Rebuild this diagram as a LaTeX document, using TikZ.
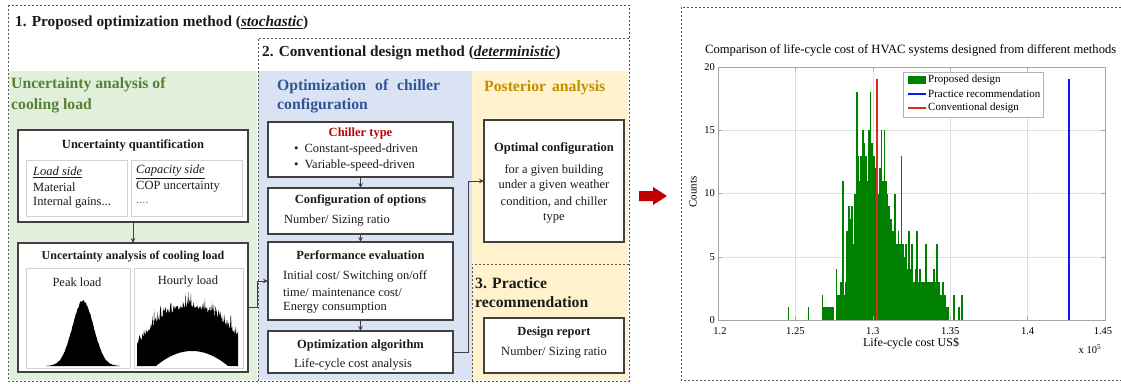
\documentclass[tikz,border=0pt]{standalone}
\usepackage{fontspec}
\setmainfont{Liberation Serif}
\usetikzlibrary{arrows.meta}
\definecolor{gfill}{HTML}{E2EFDA}
\definecolor{bfill}{HTML}{DAE3F3}
\definecolor{yfill}{HTML}{FFF2CC}
\definecolor{gtext}{HTML}{548235}
\definecolor{btext}{HTML}{2F5597}
\definecolor{ytext}{HTML}{BF9000}
\definecolor{ctred}{HTML}{C00000}
\definecolor{boxc}{HTML}{404040}
\definecolor{dashc}{HTML}{555555}
\definecolor{txtc}{HTML}{1A1A1A}
\definecolor{hgreen}{RGB}{0,128,0}
\definecolor{hedge}{RGB}{90,175,90}
\definecolor{rline}{RGB}{215,45,30}
\definecolor{bline}{RGB}{20,20,240}
\definecolor{rarrow}{HTML}{C00000}
\begin{document}
\begin{tikzpicture}[x=1pt,y=-1pt,
  box/.style={draw=boxc, line width=1.2pt, fill=white, inner sep=0pt, outer sep=0pt},
  panel/.style={draw=gray!35, line width=0.6pt, fill=white, inner sep=0pt, outer sep=0pt},
  dbox/.style={draw=dashc, dash pattern=on 2.2pt off 1.8pt, line width=0.8pt},
  arr/.style={-{Stealth[length=5pt,width=4.5pt]}, line width=1pt, draw=boxc},
  sect/.style={font=\bfseries\fontsize{15.7}{18}\selectfont, inner sep=0pt, anchor=west},
  head/.style={font=\bfseries\fontsize{15.3}{18}\selectfont, inner sep=0pt, anchor=west, text=txtc},
  ttl/.style={font=\bfseries\fontsize{12.5}{14}\selectfont, inner sep=0pt, text=txtc},
  txt/.style={font=\fontsize{12.5}{14}\selectfont, inner sep=0pt, text=txtc},
  tick/.style={font=\fontsize{10.5}{12}\selectfont, inner sep=0pt},
  leg/.style={font=\fontsize{11}{12}\selectfont, inner sep=0pt, anchor=west},
  bar/.style={fill=hgreen}
]
\useasboundingbox (0,0) rectangle (1121,383);

% ---------- coloured regions ----------
\fill[gfill] (9,71) rectangle (257,380);
\fill[bfill] (258,71) rectangle (472,380);
\fill[yfill] (472,71) rectangle (628,380);

% ---------- dashed frames ----------
\draw[dbox] (8,5) rectangle (629,381);
\draw[dbox] (258,381) -- (258,38) -- (629,38);
\draw[dbox] (472,381) -- (472,264) -- (629,264);
\draw[dbox] (1121,7) -- (681,7) -- (681,380) -- (1121,380);

% ---------- section titles ----------
\node[head] (t1) at (15,23) {1. Proposed optimization method (\underline{\textit{stochastic}})};
\node[head] (t2) at (262,53) {2. Conventional design method (\underline{\textit{deterministic}})};
\node[sect, text=gtext] (g1) at (11,85) {Uncertainty analysis of};
\node[sect, text=gtext] (g2) at (11,106) {cooling load};
\node[sect, text=btext] (b1) at (277,87) {Optimization\hspace{9pt}of\hspace{9pt}chiller};
\node[sect, text=btext] (b2) at (277,106) {configuration};
\node[sect, text=ytext] (y1) at (484,88) {Posterior\hspace{6pt}analysis};
\node[sect, text=txtc] (p1) at (475,283) {3. Practice};
\node[sect, text=txtc] (p2) at (475,302) {recommendation};

% ---------- green boxes ----------
\node[box, minimum width=230pt, minimum height=92pt] (uq) at (133,176) {};
\node[panel, minimum width=101pt, minimum height=56pt] (uql) at (76.5,188) {};
\node[panel, minimum width=111pt, minimum height=56pt] (uqr) at (186.5,188) {};
\node[ttl] (uqt) at (133,145) {Uncertainty quantification};
\node[txt, anchor=west] (ls) at (33,172) {\underline{\textit{Load side}}};
\node[txt, anchor=west] (mat) at (33,187) {Material};
\node[txt, anchor=west] (ig) at (33,203) {Internal gains...};
\node[txt, anchor=west] (cs) at (136,172) {\underline{\textit{Capacity side}}};
\node[txt, anchor=west] (cop) at (136,187) {COP uncertainty};
\node[txt, anchor=west, text=gray] (dots) at (136,203) {....};

\node[box, minimum width=230pt, minimum height=129pt] (ua) at (133,307.5) {};
\node[panel, minimum width=104pt, minimum height=100pt] (ual) at (78,318) {};
\node[panel, minimum width=109pt, minimum height=100pt] (uar) at (188.5,318) {};
\node[ttl, font=\bfseries\fontsize{12}{14}\selectfont] (uat) at (133,257) {Uncertainty analysis of cooling load};
\node[txt] (pk) at (77,282) {Peak load};
\node[txt] (hl) at (188,282) {Hourly load};
% peak load histogram
\pgfmathsetseed{5}
\fill[black] (46,366) -- plot[domain=48:118, samples=110] (\x, {366-64*exp(-((\x-83)^2)/(2*10.5*10.5))-2.5*rnd*exp(-((\x-83)^2)/(2*14*14))}) -- (120,366) -- cycle;
% hourly load
\pgfmathsetseed{11}
\fill[black] (137,366) -- plot[domain=137:238, samples=190] (\x, {366-(24+34*(1-((\x-190)/50)^2))-18*rnd*rnd}) -- (238,366) -- plot[domain=238:137, samples=60] (\x, {366-max(0,15*(1-((\x-192)/36)^2))}) -- cycle;

\draw[arr] (uq.south) -- (ua.north);

% ---------- blue boxes ----------
\node[box, minimum width=185pt, minimum height=55pt] (ct) at (360.5,149.5) {};
\node[ttl, text=ctred] (ctt) at (360.5,134) {Chiller type};
\node[txt, anchor=west] (cb1) at (294,149) {\textbullet\hspace{6pt}Constant-speed-driven};
\node[txt, anchor=west] (cb2) at (294,165) {\textbullet\hspace{6pt}Variable-speed-driven};

\node[box, minimum width=185pt, minimum height=46pt] (co) at (360.5,211) {};
\node[ttl] (cot) at (360.5,200) {Configuration of options};
\node[txt, anchor=west] (cob) at (284,221) {Number/ Sizing ratio};

\node[box, minimum width=185pt, minimum height=78pt] (pe) at (360.5,281) {};
\node[ttl] (pet) at (360.5,255) {Performance evaluation};
\node[txt, anchor=west] (pe1) at (283,276) {Initial cost/ Switching on/off};
\node[txt, anchor=west] (pe2) at (283,292) {time/ maintenance cost/};
\node[txt, anchor=west] (pe3) at (283,308) {Energy consumption};

\node[box, minimum width=185pt, minimum height=42pt] (oa) at (360.5,352) {};
\node[ttl] (oat) at (360.5,346) {Optimization algorithm};
\node[txt] (oab) at (353,364) {Life-cycle cost analysis};

\draw[arr] (ct.south) -- (co.north);
\draw[arr] (co.south) -- (pe.north);
\draw[arr] (pe.south) -- (oa.north);

% ---------- yellow boxes ----------
\node[box, minimum width=140pt, minimum height=122pt] (oc) at (554,181) {};
\node[ttl] (oct) at (554,148) {Optimal configuration};
\node[txt] (oc1) at (554,170) {for a given building};
\node[txt] (oc2) at (554,186) {under a given weather};
\node[txt] (oc3) at (554,202) {condition, and chiller};
\node[txt] (oc4) at (554,218) {type};

\node[box, minimum width=140pt, minimum height=55pt] (dr) at (554,345.5) {};
\node[ttl] (drt) at (554,333) {Design report};
\node[txt] (drb) at (554,353) {Number/ Sizing ratio};

% ---------- connectors ----------
\draw[arr] (ua.east) -- ++(9,0) |- (pe.west);
\draw[arr] (oa.east) -- ++(15,0) |- (oc.west);

% ---------- red block arrow ----------
\fill[rarrow] (639,191) -- (653,191) -- (653,187) -- (667,196) -- (653,205) -- (653,201) -- (639,201) -- cycle;

% ---------- chart ----------
\node[font=\fontsize{12.6}{14}\selectfont, inner sep=0pt, anchor=west] (ctitle) at (705,50) {Comparison of life-cycle cost of HVAC systems designed from different methods};
% grid
\foreach \gx in {795.4,872.8,950.2,1027.6} \draw[gray!25, line width=0.5pt] (\gx,67) -- (\gx,320);
\foreach \gy in {130.25,193.5,256.75} \draw[gray!25, line width=0.5pt] (718,\gy) -- (1105,\gy);
% histogram
\foreach \h [count=\i from 0] in {2,1,1,1,1,1,1,1,0,4,2,2,3,11,2,3,7,9,8,9,6,10,18,13,11,13,15,14,13,11,15,18,14,13,12,11,10,12,15,11,15,11,10,9,8,7,7,10,6,7,6,13,6,5,6,4,7,4,6,3,4,7,3,4,3,3,3,6,3,3,3,3,4,3,6,3,2,2,3,2,1,1,0,0,0,2,0,0,1,0,2}{
  \ifnum\h>0
  \fill[bar] ({821.7+\i*1.548},320) rectangle ++(1.75,{-\h*12.65});
  \fi
}
\fill[bar] (787.7,320) rectangle ++(1.6,-12.65);
\fill[bar] (807.8,320) rectangle ++(1.6,-12.65);
\draw[rline, line width=2.6pt] (877,320) -- (877,79);
\draw[bline, line width=2.6pt] (1069,320) -- (1069,79);
% axes frame
\node[draw=gray!70, line width=0.6pt, minimum width=387pt, minimum height=253pt, inner sep=0pt] (ax) at (911.5,193.5) {};
\foreach \gx in {795.4,872.8,950.2,1027.6} {\draw[gray!70, line width=0.5pt] (\gx,320) -- (\gx,316); \draw[gray!70, line width=0.5pt] (\gx,67) -- (\gx,71);}
\foreach \gy in {130.25,193.5,256.75} {\draw[gray!70, line width=0.5pt] (718,\gy) -- (722,\gy); \draw[gray!70, line width=0.5pt] (1105,\gy) -- (1101,\gy);}
% tick labels
\node[tick, anchor=east] (y20) at (715,67) {20};
\node[tick, anchor=east] (y15) at (715,130.25) {15};
\node[tick, anchor=east] (y10) at (715,193.5) {10};
\node[tick, anchor=east] (y5) at (715,256.75) {5};
\node[tick, anchor=east] (y0) at (715,320) {0};
\node[tick] (x1) at (720,331) {1.2};
\node[tick] (x2) at (795.4,331) {1.25};
\node[tick] (x3) at (872.8,331) {1.3};
\node[tick] (x4) at (950.2,331) {1.35};
\node[tick] (x5) at (1027.6,331) {1.4};
\node[tick] (x6) at (1103,331) {1.45};
\node[font=\fontsize{12}{13}\selectfont, inner sep=0pt] (xl) at (911,343) {Life-cycle cost US\$};
\node[tick] (xe) at (1090,349) {x 10\textsuperscript{5}};
\node[font=\fontsize{11}{13}\selectfont, inner sep=0pt, rotate=90] (yl) at (693,192) {Counts};
% legend
\node[draw=gray!60, fill=white, line width=0.5pt, minimum width=140pt, minimum height=45pt, inner sep=0pt] (lg) at (973,94.5) {};
\fill[hgreen] (908,76) rectangle (926,84);
\draw[bline, line width=2pt] (908,94) -- (926,94);
\draw[rline, line width=2pt] (908,108) -- (926,108);
\node[leg] (l1) at (928,80) {Proposed design};
\node[leg] (l2) at (928,94) {Practice recommendation};
\node[leg] (l3) at (928,108) {Conventional design};
\end{tikzpicture}
\end{document}
